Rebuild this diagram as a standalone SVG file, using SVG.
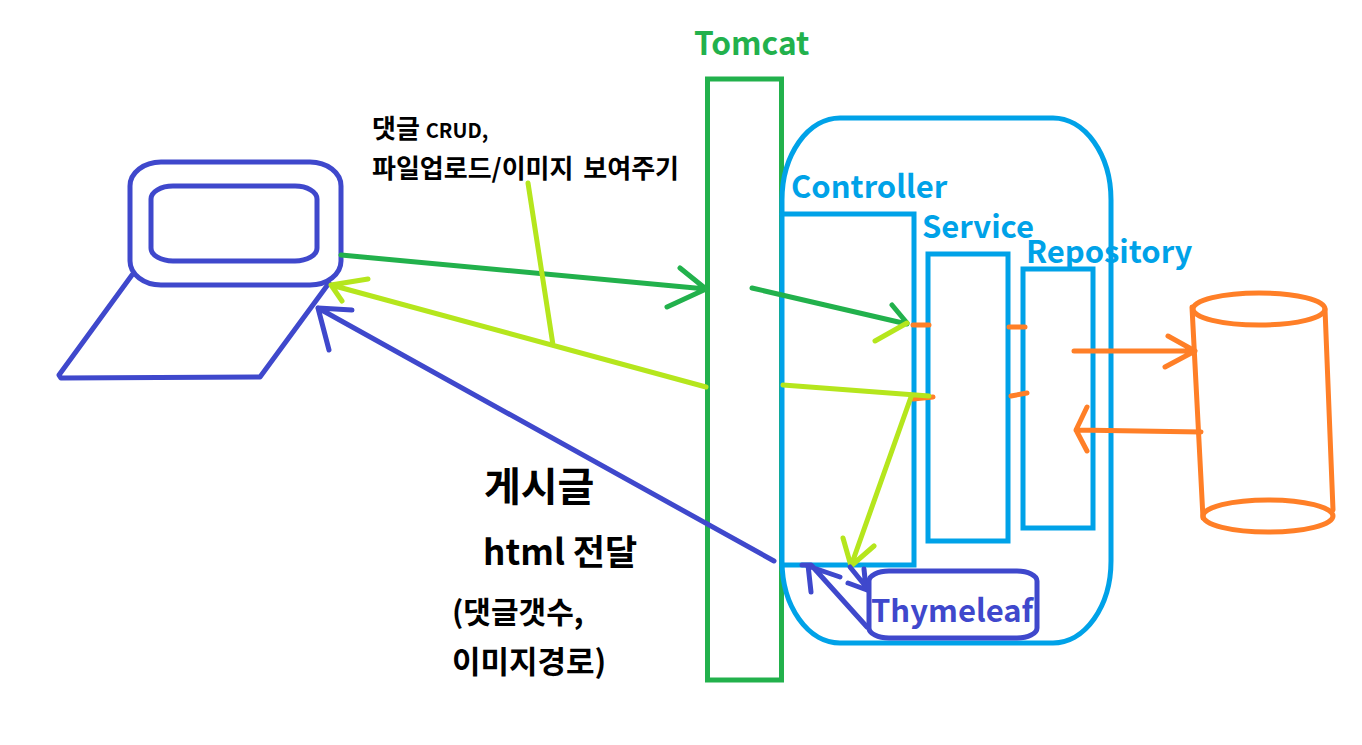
<svg xmlns="http://www.w3.org/2000/svg" width="1362" height="745" viewBox="0 0 1362 745">
<style>
.s{fill:none;stroke-linecap:round;stroke-linejoin:round;stroke-width:5}
.g{stroke:#22b14c}
.b{stroke:#00a2e8}
.o{stroke:#ff7f27}
.l{stroke:#b5e61d}
.i{stroke:#3f48cc}
text{font-family:"Noto Sans CJK KR","Noto Sans",sans-serif;font-weight:700}
.k{fill:#000}
.tb{fill:#00a2e8;font-size:31px}
</style>
<rect width="1362" height="745" fill="#fff"/>
<g id="tomcat">
<rect class="s g" x="707.500" y="79" width="74" height="601" style="stroke-linejoin:miter"/>
<text x="694" y="55" font-size="31.700" fill="#22b14c">Tomcat</text>
</g>
<g id="server-box">
<rect class="s b" x="782" y="118" width="329" height="525" rx="58" ry="82"/>
</g>
<g id="controller">
<path class="s b" d="M782 214H914V565H782" style="stroke-linejoin:miter"/>
<text class="tb" x="791" y="198">Controller</text>
</g>
<g id="service">
<rect class="s b" x="928" y="254" width="80" height="287" style="stroke-linejoin:miter"/>
<text class="tb" x="922" y="238">Service</text>
</g>
<g id="repository">
<rect class="s b" x="1023" y="269" width="70" height="259" style="stroke-linejoin:miter"/>
<text class="tb" x="1026" y="263">Repository</text>
</g>
<g id="laptop">
<rect class="s i" x="130" y="162" width="211" height="123" rx="31" ry="24"/>
<rect class="s i" x="151" y="186" width="166" height="75" rx="22" ry="13"/>
<path class="s i" d="M132 275L59 375L61 378L260 377L329 283"/>
</g>
<g id="database">
<ellipse class="s o" cx="1259" cy="309" rx="66" ry="16"/>
<ellipse class="s o" cx="1268" cy="516" rx="65" ry="16"/>
<path class="s o" d="M1192 307L1203 518M1325 309L1333 510"/>
</g>
<g id="connectors">
<path class="s g" d="M341 255L706 289M680 268L706 289L667 307"/>
<path class="s g" d="M752 288L907 324M892 305L907 323"/>
<path class="s l" d="M907 323L875 341"/>
<path class="s l" d="M706 387L331 285M368 279L331 285L342 301M528 183L553 345"/>
<path class="s o" d="M913 325H929M1009 327H1025M913 399L933 397M1011 396L1027 393"/>
<path class="s l" d="M783 385L929 396M911 397L851 566M843 538L851 566L874 546"/>
<path class="s i" d="M774 561L318 308M352 310L318 308L329 350"/>
<path class="s i" d="M867 627L812 566M811 592L808 565M840 577L805 565M802 565H811"/>
<path class="s i" d="M850 567L867 588M864 569L866 589M848 583L867 590"/>
<path class="s o" d="M1074 351H1195M1168 336L1195 351L1165 367"/>
<path class="s o" d="M1201 432L1076 430M1087 407L1076 430L1087 451"/>
</g>
<g id="thymeleaf">
<rect class="s i" x="869" y="571" width="168" height="67" rx="20" ry="10"/>
<text x="871" y="622" font-size="31" fill="#3f48cc">Thymeleaf</text>
</g>
<g id="labels">
<text class="k" x="372" y="138" font-size="26">댓글 <tspan font-size="20">CRUD,</tspan></text>
<text class="k" x="372" y="178" font-size="26" word-spacing="4">파일업로드/이미지 보여주기</text>
<text class="k" x="484" y="501" font-size="40">게시글</text>
<text class="k" x="483" y="565" font-size="35">html 전달</text>
<text class="k" x="452" y="623" font-size="30">(댓글갯수,</text>
<text class="k" x="452" y="673" font-size="31">이미지경로)</text>
</g>
</svg>
